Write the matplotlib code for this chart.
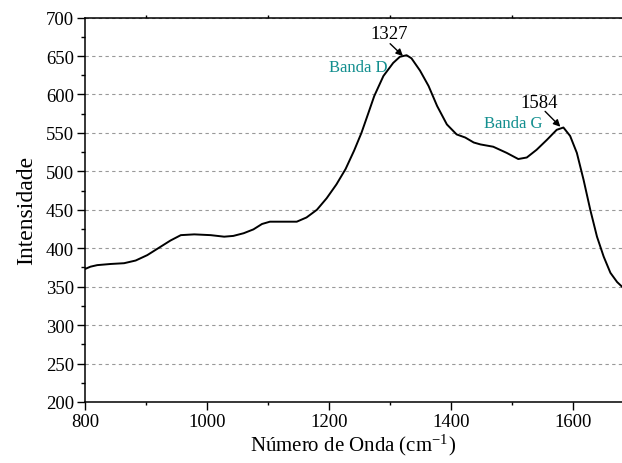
import numpy as np
import matplotlib.pyplot as plt
from matplotlib.ticker import MultipleLocator

plt.rcParams['font.family'] = ['Liberation Serif', 'DejaVu Serif']
plt.rcParams['mathtext.fontset'] = 'stix'

# Raman spectrum
wavenumber = [800, 809, 820, 842, 864, 883, 902, 924, 940, 957, 979, 1006,
              1028, 1043, 1060, 1076, 1090, 1103, 1125, 1147, 1163, 1180,
              1196, 1212, 1227, 1241, 1253, 1264, 1274, 1289, 1305, 1316,
              1327, 1335, 1349, 1363, 1377, 1393, 1409, 1423, 1437, 1448,
              1469, 1491, 1510, 1524, 1540, 1557, 1573, 1584, 1595, 1606,
              1617, 1628, 1639, 1650, 1661, 1672, 1680]
intensity = [373, 376, 378, 379.5, 380.5, 384, 391, 402, 410, 417, 418, 417,
             415, 416, 419.5, 424.5, 431.5, 434.5, 434.5, 434.5, 440, 450,
             465, 483, 503, 527, 550, 575, 598, 624, 641, 649,
             651, 647, 631, 611, 585, 561, 548, 544, 537.5, 535,
             532, 524, 516, 518, 528, 541, 554, 557, 546, 524,
             489, 450, 415, 389, 368, 356, 350]

peak_labels = ['1327', '1584']
band_labels = ['Banda D', 'Banda G']

fig = plt.figure(figsize=(6.22, 4.64), dpi=100)
ax = fig.add_axes([0.1367, 0.1315, 0.8633, 0.8285])

ax.plot(wavenumber, intensity, color='black', lw=1.4)

ax.set_xlim(800, 1680)
ax.set_ylim(200, 700)
ax.xaxis.set_major_locator(MultipleLocator(200))
ax.xaxis.set_minor_locator(MultipleLocator(100))
ax.yaxis.set_major_locator(MultipleLocator(50))
ax.yaxis.set_minor_locator(MultipleLocator(25))
ax.tick_params(which='major', direction='out', length=6, width=1,
               labelsize=13.5, pad=2)
ax.tick_params(which='minor', direction='out', length=3, width=1)
ax.tick_params(axis='x', which='minor', top=True, length=2)
ax.spines['right'].set_visible(False)
for s in ['left', 'bottom', 'top']:
    ax.spines[s].set_linewidth(1.1)

ax.yaxis.grid(True, linestyle=(0, (3, 3)), color='0.6', lw=0.8)
ax.set_axisbelow(True)

ax.set_xlabel('Número de Onda (cm$^{\\mathregular{-1}}$)', fontsize=15,
              labelpad=1)
ax.set_ylabel('Intensidade', fontsize=17, labelpad=6)

# peak annotations
teal = '#138f8f'
heads = [(1321, 650), (1579, 558)]
tails = [(1300, 666), (1554, 578)]
text_pos = [(1299, 679), (1544, 590)]
band_pos = [(1295, 636), (1549, 563)]
for lbl, hd, tl, tp, band, bp in zip(peak_labels, heads, tails, text_pos,
                                     band_labels, band_pos):
    ax.annotate('', xy=hd, xytext=tl,
                arrowprops=dict(arrowstyle='-|>', color='black', lw=1,
                                shrinkA=0, shrinkB=0, mutation_scale=10))
    ax.text(tp[0], tp[1], lbl, ha='center', va='center', fontsize=13.5)
    ax.text(bp[0], bp[1], band, ha='right', va='center', fontsize=12,
            color=teal)

fig.savefig('out.png', dpi=100)
